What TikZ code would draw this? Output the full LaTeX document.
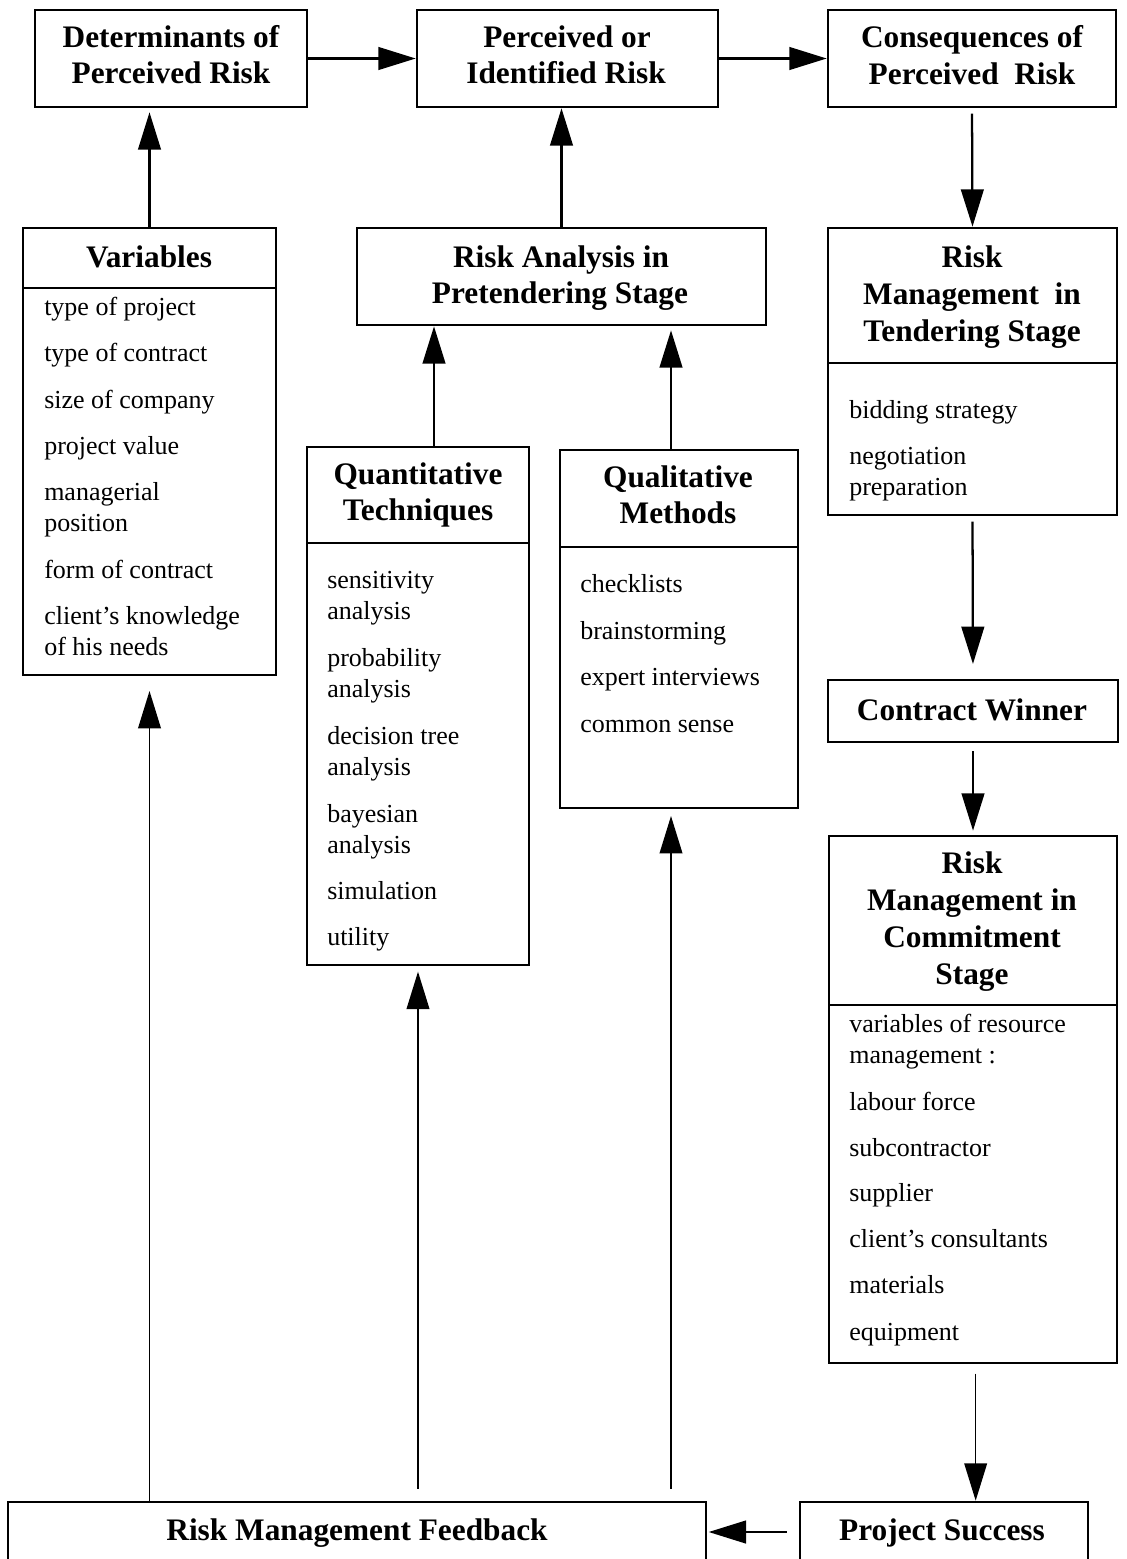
\documentclass[tikz,border=0pt]{standalone}
\usepackage{fontspec}
\setmainfont{Liberation Serif}
\usetikzlibrary{fit,arrows.meta}
\begin{document}
\tikzset{
  box/.style={draw, line width=2pt, inner sep=0pt},
  hd/.style={font=\fontsize{23.5}{27}\selectfont\bfseries, anchor=base, inner sep=0pt},
  itm/.style={font=\fontsize{19.5}{23}\selectfont, anchor=base west, inner sep=0pt},
  arr/.style={line width=1.7pt, -{Triangle[length=28pt,width=17pt]}},
  farr/.style={line width=1.2pt, -{Triangle[length=28pt,width=17pt]}},
  sepline/.style={line width=2pt},
}
\begin{tikzpicture}[x=0.75pt,y=-0.75pt]
\useasboundingbox (0,0) rectangle (1127,1559);
\clip (0,0) rectangle (1127,1559);
\fill[white] (0,0) rectangle (1127,1559);

% boxes
\node[box, fit={(35,10)(307,107)}] (det) {};
\node[box, fit={(417,10)(718,107)}] (per) {};
\node[box, fit={(828,10)(1116,107)}] (con) {};
\node[box, fit={(23,228)(276,675)}] (var) {};
\node[box, fit={(357,228)(766,325)}] (ra) {};
\node[box, fit={(828,228)(1117,515)}] (tend) {};
\node[box, fit={(307,447)(529,965)}] (quant) {};
\node[box, fit={(560,450)(798,808)}] (qual) {};
\node[box, fit={(828,680)(1118,742)}] (cw) {};
\node[box, fit={(829,836)(1117,1363)}] (com) {};
\node[box, fit={(8,1502)(706,1562)}] (fb) {};
\node[box, fit={(800,1502)(1088,1562)}] (ps) {};

% separators
\draw[sepline] (23,288) -- (276,288);
\draw[sepline] (828,363) -- (1117,363);
\draw[sepline] (307,543) -- (529,543);
\draw[sepline] (560,547) -- (798,547);
\draw[sepline] (829,1005) -- (1117,1005);

% headers
\node[hd] (det1) at (171,48) {Determinants of};
\node[hd] (det2) at (171,84) {Perceived Risk};
\node[hd] (per1) at (567,48) {Perceived or};
\node[hd] (per2) at (566,84) {Identified Risk};
\node[hd] (con1) at (972,48) {Consequences of};
\node[hd] (con2) at (972,85) {Perceived\ \ Risk};
\node[hd] (var1) at (149,267) {Variables};
\node[hd] (ra1) at (561,267) {Risk Analysis in};
\node[hd] (ra2) at (560,303) {Pretendering Stage};
\node[hd] (ten1) at (972,267) {Risk};
\node[hd] (ten2) at (972,304) {Management\ \ in};
\node[hd] (ten3) at (972,341) {Tendering Stage};
\node[hd] (qt1) at (418,484) {Quantitative};
\node[hd] (qt2) at (418,520) {Techniques};
\node[hd] (ql1) at (678,487) {Qualitative};
\node[hd] (ql2) at (678,523) {Methods};
\node[hd] (cw1) at (972,720) {Contract Winner};
\node[hd] (cm1) at (972,873) {Risk};
\node[hd] (cm2) at (972,910) {Management in};
\node[hd] (cm3) at (972,947) {Commitment};
\node[hd] (cm4) at (972,984) {Stage};
\node[hd] (fb1) at (357,1540) {Risk Management Feedback};
\node[hd] (ps1) at (942,1540) {Project Success};

% variables items
\node[itm] (v1) at (44,315) {type of project};
\node[itm] (v2) at (44,361) {type of contract};
\node[itm] (v3) at (44,408) {size of company};
\node[itm] (v4) at (44,454) {project value};
\node[itm] (v5) at (44,500) {managerial};
\node[itm] (v6) at (44,531) {position};
\node[itm] (v7) at (44,578) {form of contract};
\node[itm] (v8) at (44,624) {client’s knowledge};
\node[itm] (v9) at (44,655) {of his needs};

% tendering items
\node[itm] (t1) at (849,418) {bidding strategy};
\node[itm] (t2) at (849,464) {negotiation};
\node[itm] (t3) at (849,495) {preparation};

% quantitative items
\node[itm] (q1) at (327,588) {sensitivity};
\node[itm] (q2) at (327,619) {analysis};
\node[itm] (q3) at (327,666) {probability};
\node[itm] (q4) at (327,697) {analysis};
\node[itm] (q5) at (327,744) {decision tree};
\node[itm] (q6) at (327,775) {analysis};
\node[itm] (q7) at (327,822) {bayesian};
\node[itm] (q8) at (327,853) {analysis};
\node[itm] (q9) at (327,899) {simulation};
\node[itm] (q10) at (327,945) {utility};

% qualitative items
\node[itm] (m1) at (580,592) {checklists};
\node[itm] (m2) at (580,639) {brainstorming};
\node[itm] (m3) at (580,685) {expert interviews};
\node[itm] (m4) at (580,732) {common sense};

% commitment items
\node[itm] (c1) at (849,1032) {variables of resource};
\node[itm] (c2) at (849,1063) {management :};
\node[itm] (c3) at (849,1110) {labour force};
\node[itm] (c4) at (849,1156) {subcontractor};
\node[itm] (c5) at (849,1201) {supplier};
\node[itm] (c6) at (849,1247) {client’s consultants};
\node[itm] (c7) at (849,1293) {materials};
\node[itm] (c8) at (849,1340) {equipment};

% helper coordinates
\coordinate (qtop) at ([xshift=12pt]quant.north);
\coordinate (mtop) at ([xshift=-6pt]qual.north);
\coordinate (mbot) at ([xshift=-6pt]qual.south);
\coordinate (cbot) at ([xshift=2pt]com.south);

% connectors
\draw[arr] (det.east) -- (per.west);
\draw[arr] (per.east) -- (con.west);
\draw[arr, shorten >=3pt] (var.north) -- (var.north |- det.south);
\draw[arr] (ra.north) -- (ra.north |- per.south);
\draw[arr, shorten <=4pt] (con.south) -- (tend.north);
\draw[arr] (qtop) -- (qtop |- ra.south);
\draw[arr, shorten >=3pt] (mtop) -- (mtop |- ra.south);
\draw[arr, shorten <=4pt, shorten >=11pt] (tend.south) -- (cw.north);
\draw[arr, shorten <=6pt, shorten >=3pt] (cw.south) -- (com.north);
\draw[farr, shorten <=7pt] (cbot) -- (cbot |- ps.north);
\draw[arr, shorten <=9pt, shorten >=1pt] (ps.west) -- (fb.east);
\draw[farr, shorten >=11pt] (var.south |- fb.north) -- (var.south);
\draw[farr, shorten <=9pt, shorten >=4pt] (quant.south |- fb.north) -- (quant.south);
\draw[farr, shorten <=9pt, shorten >=5pt] (mbot |- fb.north) -- (mbot);
\end{tikzpicture}
\end{document}
